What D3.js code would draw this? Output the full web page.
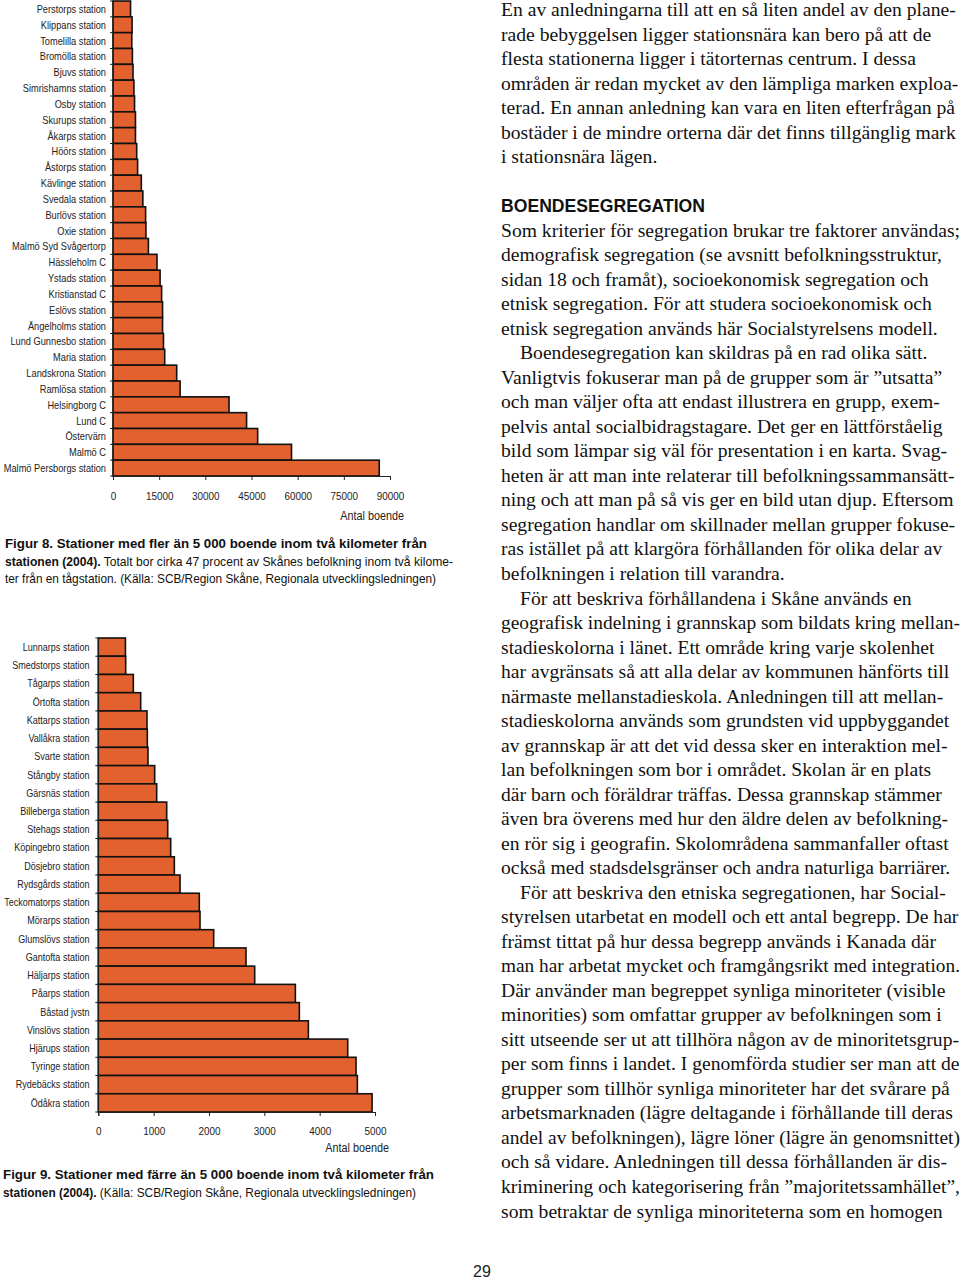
<!DOCTYPE html>
<html>
<head>
<meta charset="utf-8">
<script src="https://cdn.jsdelivr.net/npm/d3@7"></script>
<style>
  html, body { margin: 0; padding: 0; background: #fff; }
  svg { display: block; }
</style>
</head>
<body>
<svg id="page" width="960" height="1279"></svg>
<script>
// Figur 8 - stations with more than 5 000 residents within 2 km
const bigStations = [
  'Perstorps station', 'Klippans station', 'Tomelilla station', 'Bromölla station', 'Bjuvs station',
  'Simrishamns station', 'Osby station', 'Skurups station', 'Åkarps station', 'Höörs station',
  'Åstorps station', 'Kävlinge station', 'Svedala station', 'Burlövs station', 'Oxie station',
  'Malmö Syd Svågertorp', 'Hässleholm C', 'Ystads station', 'Kristianstad C', 'Eslövs station',
  'Ängelholms station', 'Lund Gunnesbo station', 'Maria station', 'Landskrona Station', 'Ramlösa station',
  'Helsingborg C', 'Lund C', 'Östervärn', 'Malmö C', 'Malmö Persborgs station'
];
const bigValues = [
  5700, 6200, 6100, 6300, 6500,
  6800, 7000, 7300, 7300, 7700,
  8000, 9200, 9700, 10600, 10700,
  11500, 14300, 15300, 15800, 16100,
  16100, 16400, 16800, 20700, 21800,
  37700, 43400, 47000, 58000, 86500
];
const bigTicks = [0, 15000, 30000, 45000, 60000, 75000, 90000];

// Figur 9 - stations with fewer than 5 000 residents within 2 km
const smallStations = [
  'Lunnarps station', 'Smedstorps station', 'Tågarps station', 'Örtofta station', 'Kattarps station',
  'Vallåkra station', 'Svarte station', 'Stångby station', 'Gärsnäs station', 'Billeberga station',
  'Stehags station', 'Köpingebro station', 'Dösjebro station', 'Rydsgårds station', 'Teckomatorps station',
  'Mörarps station', 'Glumslövs station', 'Gantofta station', 'Häljarps station', 'Påarps station',
  'Båstad jvstn', 'Vinslövs station', 'Hjärups station', 'Tyringe station', 'Rydebäcks station',
  'Ödåkra station'
];
const smallValues = [
  490, 495, 633, 766, 880,
  886, 898, 1019, 1055, 1236,
  1254, 1308, 1374, 1477, 1825,
  1838, 2085, 2669, 2826, 3561,
  3633, 3796, 4507, 4657, 4681,
  4947
];
const smallTicks = [0, 1000, 2000, 3000, 4000, 5000];

const axisTitle = 'Antal boende';

const fig8Caption = [
  [{ t: 'Figur 8. Stationer med fler än 5 000 boende inom två kilometer från', b: true }],
  [{ t: 'stationen (2004).', b: true }, { t: ' Totalt bor cirka 47 procent av Skånes befolkning inom två kilome-', b: false }],
  [{ t: 'ter från en tågstation. (Källa: SCB/Region Skåne, Regionala utvecklingsledningen)', b: false }]
];
const fig9Caption = [
  [{ t: 'Figur 9. Stationer med färre än 5 000 boende inom två kilometer från', b: true }],
  [{ t: 'stationen (2004).', b: true }, { t: ' (Källa: SCB/Region Skåne, Regionala utvecklingsledningen)', b: false }]
];

const introLines = [
  'En av anledningarna till att en så liten andel av den plane-',
  'rade bebyggelsen ligger stationsnära kan bero på att de',
  'flesta stationerna ligger i tätorternas centrum. I dessa',
  'områden är redan mycket av den lämpliga marken exploa-',
  'terad. En annan anledning kan vara en liten efterfrågan på',
  'bostäder i de mindre orterna där det finns tillgänglig mark',
  'i stationsnära lägen.'
];
const heading = 'BOENDESEGREGATION';
// '>' marks an indented first line of a paragraph
const bodyLines = [
  'Som kriterier för segregation brukar tre faktorer användas;',
  'demografisk segregation (se avsnitt befolkningsstruktur,',
  'sidan 18 och framåt), socioekonomisk segregation och',
  'etnisk segregation. För att studera socioekonomisk och',
  'etnisk segregation används här Socialstyrelsens modell.',
  '>Boendesegregation kan skildras på en rad olika sätt.',
  'Vanligtvis fokuserar man på de grupper som är ”utsatta”',
  'och man väljer ofta att endast illustrera en grupp, exem-',
  'pelvis antal socialbidragstagare. Det ger en lättförståelig',
  'bild som lämpar sig väl för presentation i en karta. Svag-',
  'heten är att man inte relaterar till befolkningssammansätt-',
  'ning och att man på så vis ger en bild utan djup. Eftersom',
  'segregation handlar om skillnader mellan grupper fokuse-',
  'ras istället på att klargöra förhållanden för olika delar av',
  'befolkningen i relation till varandra.',
  '>För att beskriva förhållandena i Skåne används en',
  'geografisk indelning i grannskap som bildats kring mellan-',
  'stadieskolorna i länet. Ett område kring varje skolenhet',
  'har avgränsats så att alla delar av kommunen hänförts till',
  'närmaste mellanstadieskola. Anledningen till att mellan-',
  'stadieskolorna används som grundsten vid uppbyggandet',
  'av grannskap är att det vid dessa sker en interaktion mel-',
  'lan befolkningen som bor i området. Skolan är en plats',
  'där barn och föräldrar träffas. Dessa grannskap stämmer',
  'även bra överens med hur den äldre delen av befolkning-',
  'en rör sig i geografin. Skolområdena sammanfaller oftast',
  'också med stadsdelsgränser och andra naturliga barriärer.',
  '>För att beskriva den etniska segregationen, har Social-',
  'styrelsen utarbetat en modell och ett antal begrepp. De har',
  'främst tittat på hur dessa begrepp används i Kanada där',
  'man har arbetat mycket och framgångsrikt med integration.',
  'Där använder man begreppet synliga minoriteter (visible',
  'minorities) som omfattar grupper av befolkningen som i',
  'sitt utseende ser ut att tillhöra någon av de minoritetsgrup-',
  'per som finns i landet. I genomförda studier ser man att de',
  'grupper som tillhör synliga minoriteter har det svårare på',
  'arbetsmarknaden (lägre deltagande i förhållande till deras',
  'andel av befolkningen), lägre löner (lägre än genomsnittet)',
  'och så vidare. Anledningen till dessa förhållanden är dis-',
  'kriminering och kategorisering från ”majoritetssamhället”,',
  'som betraktar de synliga minoriteterna som en homogen'
];
const pageNumber = '29';

const barColor = '#e2612f';
const sans = '"Liberation Sans", Arial, sans-serif';
const serif = '"Liberation Serif", "Times New Roman", serif';

const svg = d3.select('#page');
svg.append('rect').attr('width', 960).attr('height', 1279).attr('fill', '#fff');

// squeeze text horizontally to mimic the condensed face of the original
const squeeze = (sel, ratio) => sel.each(function () {
  const w = this.getComputedTextLength();
  d3.select(this).attr('textLength', w * ratio).attr('lengthAdjust', 'spacingAndGlyphs');
});

const drawBars = (cfg) => {
  const g = svg.append('g');
  const y = d3.scaleBand().domain(cfg.names).range([cfg.top, cfg.bottom]).padding(0);
  const x = d3.scaleLinear().domain([0, cfg.max]).range([cfg.left, cfg.right]);

  g.selectAll('rect.bar')
    .data(cfg.names)
    .enter()
    .append('rect')
    .attr('class', 'bar')
    .attr('x', x(0))
    .attr('y', d => y(d))
    .attr('width', (d, i) => x(cfg.values[i]) - x(0))
    .attr('height', y.bandwidth())
    .attr('fill', barColor)
    .attr('stroke', '#111')
    .attr('stroke-width', 1.6);

  // y axis: line with small ticks at band edges
  const edges = cfg.names.map(d => y(d)).concat([cfg.bottom]);
  g.append('line')
    .attr('x1', x(0)).attr('x2', x(0))
    .attr('y1', cfg.top).attr('y2', cfg.bottom)
    .attr('stroke', '#222').attr('stroke-width', 1);
  g.selectAll('line.ytick')
    .data(edges)
    .enter()
    .append('line')
    .attr('class', 'ytick')
    .attr('x1', x(0) - 3).attr('x2', x(0))
    .attr('y1', d => d).attr('y2', d => d)
    .attr('stroke', '#222').attr('stroke-width', 1);

  g.selectAll('text.cat')
    .data(cfg.names)
    .enter()
    .append('text')
    .attr('class', 'cat')
    .attr('x', cfg.labelX)
    .attr('y', d => y(d) + y.bandwidth() / 2)
    .attr('dy', '0.36em')
    .attr('text-anchor', 'end')
    .attr('font-family', sans)
    .attr('font-size', cfg.labelSize)
    .attr('fill', '#222')
    .text(d => d)
    .call(squeeze, cfg.labelRatio);

  const axis = d3.axisBottom(x)
    .tickValues(cfg.ticks)
    .tickSize(4)
    .tickPadding(cfg.tickPad)
    .tickFormat(d3.format('d'));
  const ax = g.append('g')
    .attr('transform', `translate(0,${cfg.bottom})`)
    .call(axis);
  ax.select('.domain').attr('stroke', '#222');
  ax.selectAll('.tick line').attr('stroke', '#222');
  ax.selectAll('.tick text')
    .attr('font-family', sans)
    .attr('font-size', 11.5)
    .attr('fill', '#222')
    .call(squeeze, 0.86);

  g.append('text')
    .attr('x', cfg.titleX)
    .attr('y', cfg.titleY)
    .attr('text-anchor', 'end')
    .attr('font-family', sans)
    .attr('font-size', 12)
    .attr('fill', '#222')
    .text(axisTitle)
    .call(squeeze, 0.9);
};

drawBars({
  names: bigStations, values: bigValues, ticks: bigTicks, max: 90000,
  top: 1, bottom: 476, left: 113, right: 390,
  labelX: 106, labelSize: 11, labelRatio: 0.84, tickPad: 12,
  titleX: 404, titleY: 520
});

drawBars({
  names: smallStations, values: smallValues, ticks: smallTicks, max: 5000,
  top: 638, bottom: 1112, left: 98.3, right: 375,
  labelX: 89.5, labelSize: 10.5, labelRatio: 0.86, tickPad: 11,
  titleX: 389, titleY: 1152
});

// captions
const drawCaption = (lines, x, y0, widths) => {
  lines.forEach((parts, i) => {
    const t = svg.append('text')
      .attr('x', x)
      .attr('y', y0 + i * 17.5)
      .attr('font-family', sans)
      .attr('font-size', 13)
      .attr('fill', '#111')
      .attr('textLength', widths[i])
      .attr('lengthAdjust', 'spacingAndGlyphs');
    parts.forEach(p => {
      t.append('tspan')
        .attr('font-weight', p.b ? 'bold' : 'normal')
        .text(p.t);
    });
  });
};
drawCaption(fig8Caption, 5, 548, [422, 448, 431]);
drawCaption(fig9Caption, 3, 1179, [431, 413]);

// right hand text column (Times is a bit narrower than the original face, stretch slightly)
const col = svg.append('g').attr('font-family', serif).attr('fill', '#111');
const lineStep = 24.52;
const colX = 501;
const colMax = 459;
const fitLine = function () {
  const w = this.getComputedTextLength() * 1.06;
  const room = colMax - (+this.getAttribute('x') - colX);
  d3.select(this).attr('textLength', Math.min(w, room)).attr('lengthAdjust', 'spacingAndGlyphs');
};

col.selectAll('text.intro')
  .data(introLines)
  .enter()
  .append('text')
  .attr('class', 'intro')
  .attr('x', colX)
  .attr('y', (d, i) => 16 + i * lineStep)
  .attr('font-size', 18.5)
  .text(d => d)
  .each(fitLine);

svg.append('text')
  .attr('x', colX)
  .attr('y', 212)
  .attr('font-family', sans)
  .attr('font-weight', 'bold')
  .attr('font-size', 17.5)
  .attr('fill', '#111')
  .attr('textLength', 204)
  .attr('lengthAdjust', 'spacingAndGlyphs')
  .text(heading);

col.selectAll('text.body')
  .data(bodyLines)
  .enter()
  .append('text')
  .attr('class', 'body')
  .attr('x', d => d.startsWith('>') ? colX + 19 : colX)
  .attr('y', (d, i) => 236.7 + i * lineStep)
  .attr('font-size', 18.5)
  .text(d => d.replace(/^>/, ''))
  .each(fitLine);

svg.append('text')
  .attr('x', 482)
  .attr('y', 1277)
  .attr('text-anchor', 'middle')
  .attr('font-family', sans)
  .attr('font-size', 16)
  .attr('fill', '#222')
  .text(pageNumber);
</script>
</body>
</html>
